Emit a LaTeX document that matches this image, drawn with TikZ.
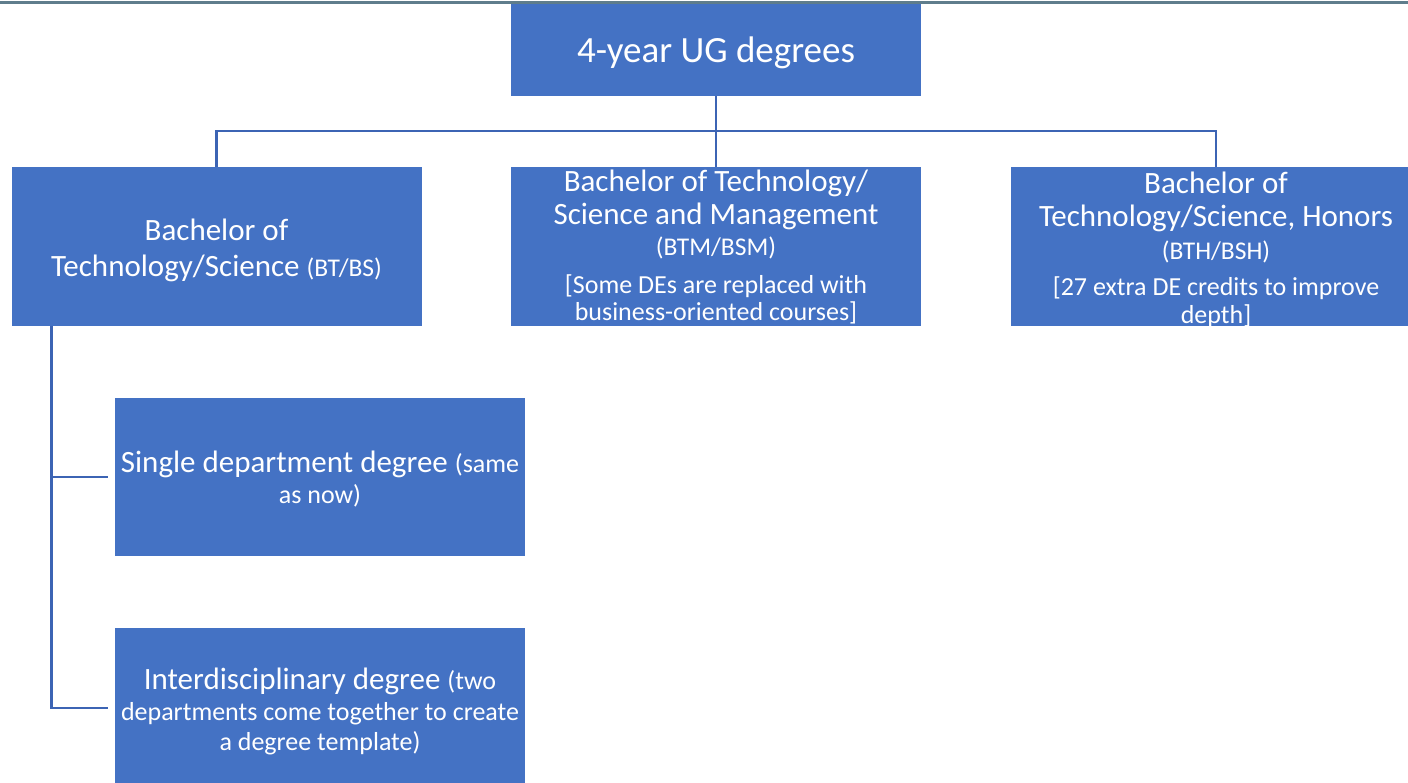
\documentclass[tikz,border=0pt]{standalone}
\usepackage{fontspec}
\setmainfont{Carlito}
\definecolor{boxblue}{HTML}{4472C4}
\definecolor{linkblue}{HTML}{3C64B4}
\definecolor{rulegray}{HTML}{5F7D8C}
\newcommand{\bigf}{\fontsize{31}{33}\selectfont}
\newcommand{\smf}{\fontsize{25.5}{33}\selectfont}
\newcommand{\brf}{\fontsize{26}{33}\selectfont}
\begin{document}
\begin{tikzpicture}[x=1pt,y=-1pt,
  box/.style={fill=boxblue, draw=none, inner sep=0pt,
    minimum width=410pt, minimum height=159pt, anchor=center},
  txt/.style={text=white, align=center, inner sep=0pt, anchor=center, font=\bigf},
  link/.style={draw=linkblue, line width=2.5pt},
  rulebar/.style={draw=rulegray, line width=3pt}]
\useasboundingbox (0,0) rectangle (1408,783);
\clip (0,0) rectangle (1408,783);
\coordinate (ruleL) at (0,3);
\coordinate (ruleR) at (1408,3);
\draw[rulebar] (ruleL) -- (ruleR);
% boxes
\node[box, minimum height=92pt] (top) at (716,50) {};
\node[box] (bt) at (216.5,246.5) {};
\node[box] (btm) at (716,246.5) {};
\node[box] (bth) at (1216,246.5) {};
\node[box, minimum height=158pt] (single) at (320,477) {};
\node[box, minimum height=160pt] (inter) at (320,708) {};
% texts
\node[txt, font=\fontsize{37}{40}\selectfont] (topT) at ([yshift=-3pt]top.center) {4-year UG degrees};
\node[txt] (btT) at ([yshift=-3.5pt]bt.center) {Bachelor of\\[3pt]Technology/Science {\smf (BT/BS)}};
\node[txt] (btmT) at ([yshift=-1pt]btm.center) {Bachelor of Technology/\\Science and Management\\[-2pt]{\smf (BTM/BSM)}\\[5pt]{\brf [Some DEs are replaced with}\\[-6pt]{\brf business-oriented courses]}};
\node[txt] (bthT) at ([yshift=-3pt]bth.center) {Bachelor of\\Technology/Science, Honors\\{\smf (BTH/BSH)}\\[3pt]{\brf [27 extra DE credits to improve}\\[-5pt]{\brf depth]}};
\node[txt] (singleT) at ([yshift=-2.5pt]single.center) {Single department degree {\brf (same}\\[-2pt]{\brf as now)}};
\node[txt] (interT) at ([yshift=-3pt]inter.center) {Interdisciplinary degree {\brf (two}\\[-2pt]{\brf departments come together to create}\\[-3pt]{\brf a degree template)}};
% connectors
\coordinate (bus) at (716,131);
\draw[link] (top.south) -- (bus);
\draw[link] (bt.north) |- (bus) -| (bth.north);
\draw[link] (bus) -- (btm.north);
\draw[link] ([xshift=-165pt]bt.south) |- ([xshift=-7pt]single.west);
\draw[link] ([xshift=-165pt]bt.south) |- ([xshift=-7pt]inter.west);
\end{tikzpicture}
\end{document}
